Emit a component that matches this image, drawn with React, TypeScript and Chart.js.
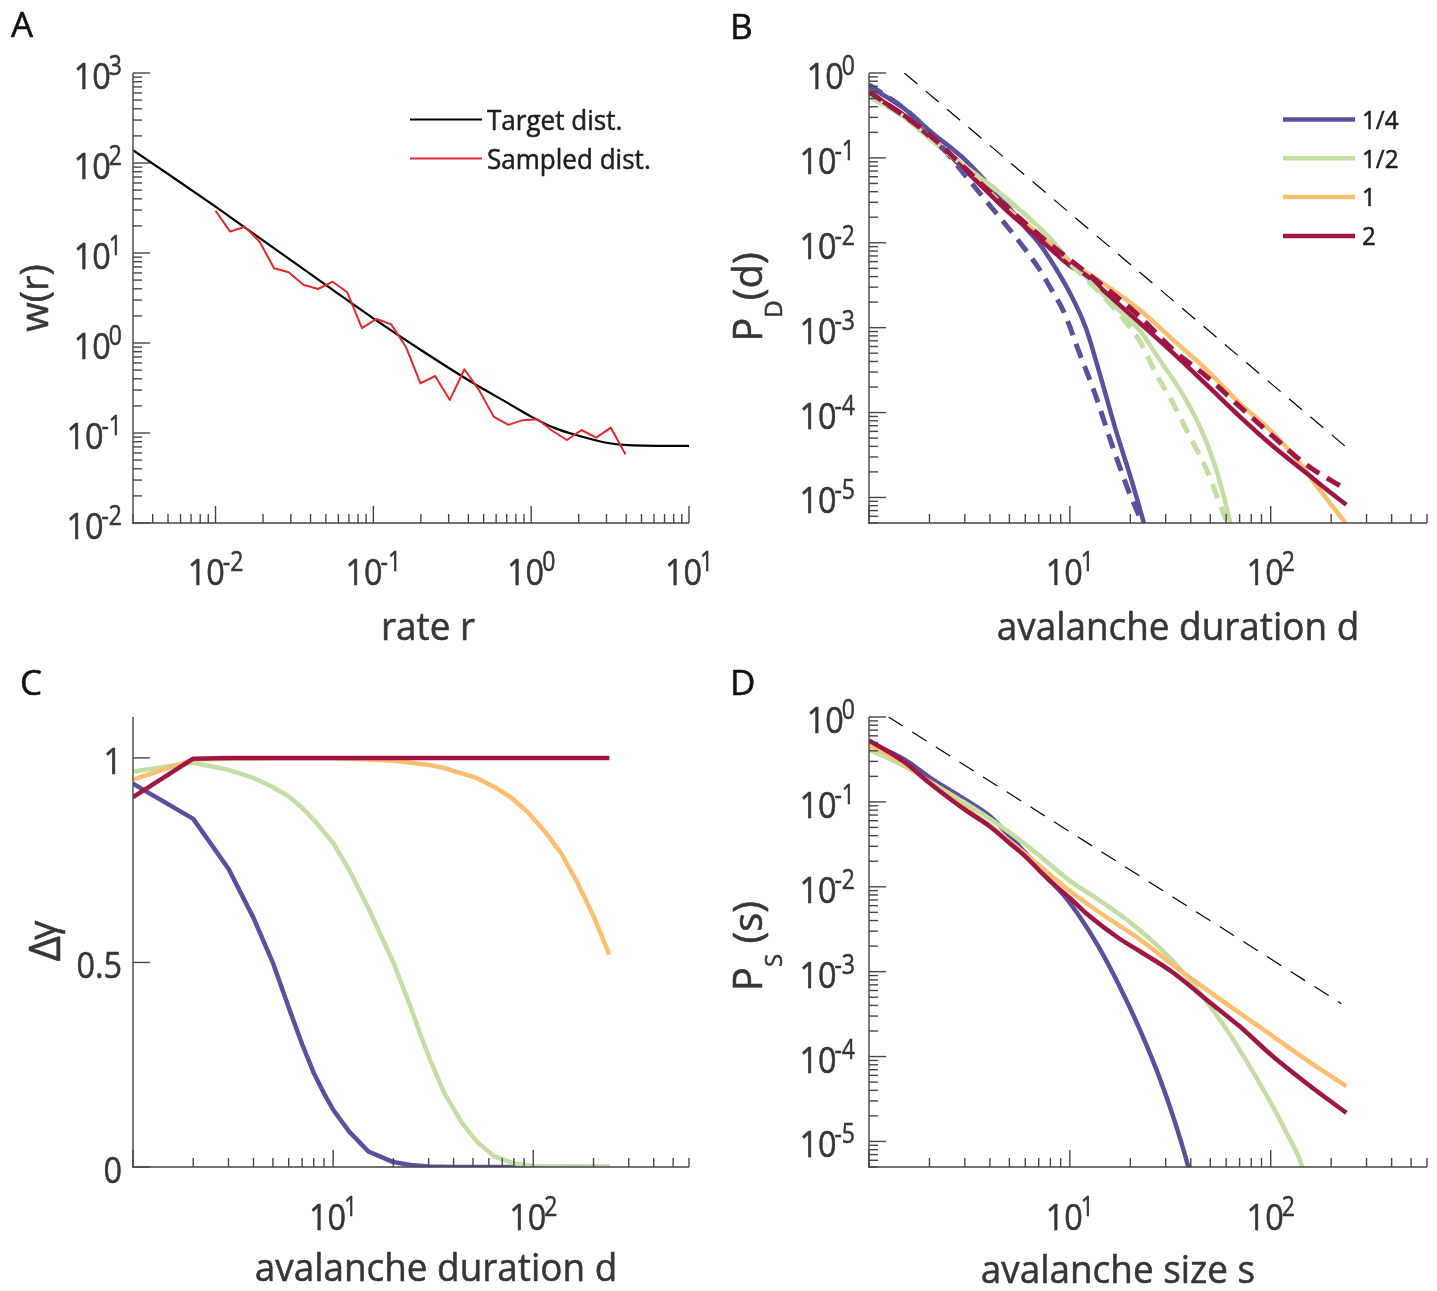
import React, { useEffect, useRef } from 'react';
import { Chart, registerables } from 'chart.js';

Chart.register(...registerables);

// ---------------- Panel A data ----------------
const A_TARGET_R = [0.003, 0.005, 0.01, 0.03, 0.1, 0.2, 0.45, 0.7, 1, 1.4, 1.93, 3.14, 5.08, 10];
const A_TARGET_W = [139, 75.5, 32.7, 8.33, 1.88, 0.836, 0.341, 0.219, 0.152, 0.114, 0.095, 0.0769, 0.0723, 0.0718];
const A_SAMPLED_R = [0.01, 0.01238, 0.01533, 0.01898, 0.0235, 0.02909, 0.03602, 0.0446, 0.05522, 0.06836,
  0.08464, 0.1048, 0.1297, 0.1606, 0.1989, 0.2462, 0.3049, 0.3775, 0.4673, 0.5786,
  0.7164, 0.887, 1.098, 1.36, 1.684, 2.084, 2.581, 3.195, 3.956];
const A_SAMPLED_W = [29.5, 17.3, 19.6, 13.4, 6.76, 6.1, 4.44, 3.98, 4.8, 3.66,
  1.46, 1.85, 1.61, 0.91, 0.356, 0.43, 0.233, 0.511, 0.3, 0.152,
  0.123, 0.139, 0.142, 0.106, 0.0836, 0.108, 0.0887, 0.1146, 0.058];
const A_Y_TICKS = [0.01, 0.1, 1, 10, 100, 1000];
const A_Y_EXPS = ['-2', '-1', '0', '1', '2', '3'];
const A_X_TICKS = [0.01, 0.1, 1, 10];
const A_X_EXPS = ['-2', '-1', '0', '1'];
const A_LEGEND = ['Target dist.', 'Sampled dist.'];

// ---------------- Panel B data (duration distributions) ----------------
const B_REF_D = [1.5, 238];
const B_REF_P = [1, 3.9e-5];
const B_PURPLE_D = [1, 1.5, 2, 3, 4, 5, 6, 7, 8, 10, 12, 14, 17, 20, 22, 24];
const B_PURPLE_P = [0.695, 0.38, 0.209, 0.0955, 0.0468, 0.0257, 0.0151, 0.01, 0.00631, 0.00257, 0.001, 3.02e-4, 6.03e-5, 1.78e-5, 8.3e-6, 3.98e-6];
const B_PURPLE_DASH_D = [1, 1.5, 2, 3, 4, 5, 6, 7, 8, 9.4, 11, 13.3, 16.1, 19.5, 22.7, 24];
const B_PURPLE_DASH_P = [0.724, 0.38, 0.2, 0.0631, 0.0275, 0.01445, 0.00832, 0.00501, 0.00295, 0.00148, 5.5e-4, 1.7e-4, 4.37e-5, 1.23e-5, 5.0e-6, 3.0e-6];
const B_GREEN_D = [1, 1.5, 2, 3, 4, 5, 6, 8, 10, 12, 14, 17, 20, 22.3, 28, 35.3, 44.3, 51.7, 57.9, 63, 66];
const B_GREEN_P = [0.53, 0.302, 0.17, 0.0794, 0.0479, 0.0309, 0.0214, 0.0112, 0.00603, 0.00398, 0.00275, 0.00174, 0.0012, 9.3e-4, 4.17e-4, 1.86e-4, 6.9e-5, 2.75e-5, 1.12e-5, 5.0e-6, 3.5e-6];
const B_GREEN_DASH_D = [1, 1.5, 2, 3, 4, 5, 6, 8, 10, 12, 14, 17, 20, 22.3, 27, 32.6, 39.5, 47.9, 55.7, 60.6, 64];
const B_GREEN_DASH_P = [0.53, 0.302, 0.17, 0.0794, 0.0479, 0.0309, 0.0214, 0.011, 0.00575, 0.0038, 0.00263, 0.00158, 0.001, 6.92e-4, 2.82e-4, 1.29e-4, 5.25e-5, 2.14e-5, 8.5e-6, 5.0e-6, 3.2e-6];
const B_ORANGE_D = [1, 1.5, 2, 3, 4, 5, 6, 8, 10, 13.8, 22.3, 32.6, 47.9, 70, 102.7, 139, 175, 203, 235, 240];
const B_ORANGE_P = [0.581, 0.316, 0.182, 0.0741, 0.0389, 0.024, 0.017, 0.00977, 0.00603, 0.00367, 0.00162, 7.23e-4, 3.2e-4, 1.29e-4, 5.75e-5, 2.55e-5, 1.24e-5, 7.85e-6, 5.0e-6, 4.6e-6];
const B_RED_D = [1, 1.5, 2, 3, 4, 5, 6, 8, 10, 12, 16, 22.3, 32.6, 47.9, 70, 102.7, 150, 190, 238];
const B_RED_P = [0.581, 0.316, 0.178, 0.0724, 0.0372, 0.0224, 0.0155, 0.00851, 0.00537, 0.00417, 0.00229, 0.001135, 5.04e-4, 2.13e-4, 9.0e-5, 4.0e-5, 1.95e-5, 1.24e-5, 8.2e-6];
const B_RED_DASH_D = [1, 2, 3, 4, 6, 8, 10, 14, 22.3, 32.6, 47.9, 70, 102.7, 150, 238];
const B_RED_DASH_P = [0.603, 0.186, 0.0759, 0.0398, 0.017, 0.00955, 0.00631, 0.00339, 0.00135, 5.51e-4, 2.67e-4, 1.18e-4, 5.25e-5, 2.44e-5, 1.24e-5];
const B_LEGEND = ['1/4', '1/2', '1', '2'];
const LOG_Y_TICKS = [1e-5, 1e-4, 1e-3, 1e-2, 1e-1, 1];
const LOG_Y_EXPS = ['-5', '-4', '-3', '-2', '-1', '0'];
const DUR_X_TICKS = [10, 100];
const DUR_X_EXPS = ['1', '2'];

// ---------------- Panel C data ----------------
const C_PURPLE_D = [1, 2, 3, 4, 5, 6, 7, 8, 9, 10, 12, 15, 20, 25, 30, 40, 60, 100, 150, 240];
const C_PURPLE_V = [0.937, 0.851, 0.729, 0.609, 0.499, 0.39, 0.3, 0.23, 0.18, 0.14, 0.087, 0.038, 0.012, 0.004, 0.001, 0, 0, 0, 0, 0];
const C_GREEN_D = [1, 2, 3, 4, 5, 6, 7, 8, 10, 12, 15, 20, 24, 27, 30.5, 36, 44, 53, 64, 79, 100, 150, 240];
const C_GREEN_V = [0.967, 0.988, 0.971, 0.951, 0.929, 0.906, 0.878, 0.849, 0.792, 0.727, 0.633, 0.5, 0.4, 0.33, 0.262, 0.18, 0.108, 0.059, 0.026, 0.01, 0.002, 0, 0];
const C_ORANGE_D = [1, 2, 3, 5, 10, 15, 20, 24, 30, 35.5, 42, 52, 64, 78, 94.5, 114, 139, 168, 200, 240];
const C_ORANGE_V = [0.947, 0.996, 0.998, 0.999, 0.999, 0.996, 0.993, 0.989, 0.983, 0.976, 0.965, 0.951, 0.929, 0.902, 0.866, 0.821, 0.764, 0.69, 0.613, 0.519];
const C_RED_D = [1, 2, 3, 5, 10, 20, 50, 100, 240];
const C_RED_V = [0.904, 0.998, 1, 1, 1, 1, 1, 1, 1];
const C_Y_TICKS = [0, 0.5, 1];
const C_Y_LABELS = ['0', '0.5', '1'];

// ---------------- Panel D data (size distributions) ----------------
const D_REF_S = [1.25, 225];
const D_REF_P = [1, 4.2e-4];
const D_PURPLE_S = [1, 1.5, 2, 3, 4, 5, 6, 7, 8, 9.4, 11.4, 13.8, 17.4, 22, 27, 32.6, 38.8, 41];
const D_PURPLE_P = [0.501, 0.316, 0.195, 0.107, 0.0676, 0.0398, 0.0251, 0.0166, 0.01175, 0.00776, 0.00417, 0.00202, 7.24e-4, 2.24e-4, 6.97e-5, 2.0e-5, 5.1e-6, 3.0e-6];
const D_GREEN_S = [1, 1.5, 2, 3, 4, 5, 6, 8, 10, 14, 18, 22.3, 27, 32.6, 40, 47.9, 58, 70, 85, 102.7, 120, 139, 145];
const D_GREEN_P = [0.412, 0.263, 0.174, 0.0977, 0.0631, 0.0437, 0.0316, 0.0182, 0.01175, 0.00698, 0.00458, 0.00308, 0.00207, 0.00133, 7.67e-4, 4.47e-4, 2.38e-4, 1.2e-4, 5.62e-5, 2.55e-5, 1.26e-5, 6.24e-6, 4.6e-6];
const D_ORANGE_S = [1, 1.5, 2, 3, 4, 5, 6, 8, 10, 14, 22.3, 32.6, 47.9, 70, 102.7, 150, 238];
const D_ORANGE_P = [0.468, 0.282, 0.17, 0.0851, 0.0525, 0.0347, 0.0245, 0.0138, 0.00891, 0.00501, 0.0024, 0.0012, 6.14e-4, 3.26e-4, 1.73e-4, 9.2e-5, 4.46e-5];
const D_RED_S = [1, 1.5, 2, 3, 4, 5, 6, 7, 8, 10, 12.3, 17.4, 22.3, 32.6, 47.9, 70, 102.7, 150, 238];
const D_RED_P = [0.531, 0.295, 0.167, 0.0809, 0.0514, 0.0328, 0.0228, 0.0158, 0.0116, 0.00738, 0.00468, 0.00251, 0.00174, 9.77e-4, 4.68e-4, 2.27e-4, 1.0e-4, 4.89e-5, 2.17e-5];

// ---------------- styles ----------------
const FONT = '"Open Sans", "Noto Sans", "DejaVu Sans", sans-serif';
const WEIGHT = '500';
const AXIS_COLOR = '#454545';
const TEXT_COLOR = '#363636';
const PURPLE = '#5b4f9e';
const GREEN = '#c3dea2';
const ORANGE = '#fdbe70';
const RED = '#9f1645';
const SAMPLE_RED = '#e5292b';

// ---------------- drawing helpers ----------------
function setFont(ctx: any, size: number) {
  ctx.font = `${WEIGHT} ${size}px ${FONT}`;
}

function paintText(ctx: any, s: string, color: string) {
  ctx.fillStyle = color;
  ctx.strokeStyle = color;
  ctx.lineWidth = 0.55;
  ctx.lineJoin = 'round';
  ctx.fillText(s, 0, 0);
  ctx.strokeText(s, 0, 0);
}

function drawText(ctx: any, s: string, x: number, y: number, size: number, color: string, align: string, hs: number) {
  setFont(ctx, size);
  const w = ctx.measureText(s).width * hs;
  let left = x;
  if (align === 'center') left = x - w / 2;
  else if (align === 'right') left = x - w;
  ctx.save();
  ctx.translate(left, y);
  ctx.scale(hs, 1);
  ctx.textAlign = 'left';
  ctx.textBaseline = 'alphabetic';
  paintText(ctx, s, color);
  ctx.restore();
  return w;
}

const MAIN_SIZE = 36;
const SUP_SIZE = 28;
const HS_MAIN = 0.9;
const HS_SUP = 0.82;
const SUP_RAISE = 14;

function drawPow(ctx: any, exp: string, x: number, y: number, align: string) {
  setFont(ctx, MAIN_SIZE);
  const wb = ctx.measureText('10').width * HS_MAIN;
  setFont(ctx, SUP_SIZE);
  const we = ctx.measureText(exp).width * HS_SUP;
  const total = wb + we - 2;
  const left = align === 'center' ? x - total / 2 : x - total;
  drawText(ctx, '10', left, y, MAIN_SIZE, TEXT_COLOR, 'left', HS_MAIN);
  drawText(ctx, exp, left + wb - 2, y - SUP_RAISE, SUP_SIZE, TEXT_COLOR, 'left', HS_SUP);
}

function drawRot(ctx: any, parts: any[], bx: number, cy: number) {
  const widths = parts.map((p) => {
    setFont(ctx, p.size);
    return ctx.measureText(p.s).width * (p.hs ?? 1) + (p.kern ?? 0);
  });
  const total = widths.reduce((a, b) => a + b, 0);
  ctx.save();
  ctx.translate(bx, cy);
  ctx.rotate(-Math.PI / 2);
  let x = -total / 2;
  parts.forEach((p, i) => {
    ctx.save();
    ctx.translate(x, p.dy || 0);
    ctx.scale(p.hs ?? 1, 1);
    setFont(ctx, p.size);
    ctx.textBaseline = 'alphabetic';
    ctx.textAlign = 'left';
    paintText(ctx, p.s, TEXT_COLOR);
    ctx.restore();
    x += widths[i];
  });
  ctx.restore();
}

function logTicks(min: number, max: number) {
  const out: any[] = [];
  const e0 = Math.floor(Math.log10(min) - 1e-9);
  const e1 = Math.ceil(Math.log10(max) + 1e-9);
  for (let e = e0; e <= e1; e++) {
    for (let m = 1; m <= 9; m++) {
      const v = m * Math.pow(10, e);
      if (v >= min * (1 - 1e-9) && v <= max * (1 + 1e-9)) out.push({ v, major: m === 1 });
    }
  }
  return out;
}

function line(ctx: any, x1: number, y1: number, x2: number, y2: number) {
  ctx.beginPath();
  ctx.moveTo(x1, y1);
  ctx.lineTo(x2, y2);
  ctx.stroke();
}

function drawAxes(chart: any, yLinearTicks?: number[]) {
  const ctx = chart.ctx;
  const a = chart.chartArea;
  const xs = chart.scales.x;
  const ys = chart.scales.y;
  ctx.save();
  ctx.strokeStyle = AXIS_COLOR;
  ctx.lineWidth = 1.4;
  ctx.lineCap = 'butt';
  line(ctx, a.left, a.top, a.left, a.bottom + 0.7);
  line(ctx, a.left - 0.7, a.bottom, a.right, a.bottom);
  logTicks(xs.min, xs.max).forEach((t) => {
    const px = xs.getPixelForValue(t.v);
    line(ctx, px, a.bottom, px, a.bottom - (t.major ? 17 : 9));
  });
  if (yLinearTicks) {
    yLinearTicks.forEach((v) => {
      const py = ys.getPixelForValue(v);
      line(ctx, a.left, py, a.left + 17, py);
    });
  } else {
    logTicks(ys.min, ys.max).forEach((t) => {
      const py = ys.getPixelForValue(t.v);
      line(ctx, a.left, py, a.left + (t.major ? 17 : 9), py);
    });
  }
  ctx.restore();
}

function drawLegend(ctx: any, items: any[], x1: number, x2: number, y0: number, dy: number, tx: number, size: number, lw: number) {
  items.forEach((it, i) => {
    const y = y0 + i * dy;
    ctx.save();
    ctx.strokeStyle = it.color;
    ctx.lineWidth = lw;
    line(ctx, x1, y, x2, y);
    ctx.restore();
    drawText(ctx, it.label, tx, y + size * 0.36, size, '#1e1e1e', 'left', 0.93);
  });
}

// ---------------- panels ----------------
function series(xs: number[], ys: number[], color: string, width: number, dash?: number[], smooth?: boolean) {
  return { xs, ys, color, width, dash, smooth };
}

const PANEL_A = {
  left: 0, top: 0, w: 718, h: 645,
  pad: { left: 133, right: 29, top: 73, bottom: 122 },
  x: { type: 'logarithmic', min: 0.003, max: 10 },
  y: { type: 'logarithmic', min: 0.01, max: 1000 },
  series: [
    series(A_TARGET_R, A_TARGET_W, '#000000', 2.2, undefined, true),
    series(A_SAMPLED_R, A_SAMPLED_W, SAMPLE_RED, 2),
  ],
  decorate(chart: any) {
    const ctx = chart.ctx;
    const ox = 0, oy = 0;
    drawAxes(chart);
    A_Y_TICKS.forEach((v, i) => drawPow(ctx, A_Y_EXPS[i], 122 - ox, chart.scales.y.getPixelForValue(v) + 16, 'right'));
    A_X_TICKS.forEach((v, i) => drawPow(ctx, A_X_EXPS[i], chart.scales.x.getPixelForValue(v), 585 - oy, 'center'));
    drawText(ctx, 'rate r', 428 - ox, 640 - oy, 38, TEXT_COLOR, 'center', 0.97);
    drawRot(ctx, [{ s: 'w(r)', size: 38 }], 48 - ox, 298 - oy);
    drawText(ctx, 'A', 11 - ox, 37 - oy, 35, '#111111', 'left', 1);
    drawLegend(ctx, [
      { label: A_LEGEND[0], color: '#000000' },
      { label: A_LEGEND[1], color: SAMPLE_RED },
    ], 410 - ox, 482 - ox, 119.5 - oy, 39, 487 - ox, 28, 2);
  },
};

const PANEL_B = {
  left: 718, top: 0, w: 719, h: 645,
  pad: { left: 151, right: 10, top: 73, bottom: 122 },
  x: { type: 'logarithmic', min: 1, max: 600 },
  y: { type: 'logarithmic', min: 5e-6, max: 1 },
  series: [
    series(B_REF_D, B_REF_P, '#000000', 1.2, [17, 11]),
    series(B_PURPLE_D, B_PURPLE_P, PURPLE, 4.5, undefined, true),
    series(B_GREEN_D, B_GREEN_P, GREEN, 4.5, undefined, true),
    series(B_ORANGE_D, B_ORANGE_P, ORANGE, 4.5, undefined, true),
    series(B_RED_D, B_RED_P, RED, 4.5, undefined, true),
    series(B_PURPLE_DASH_D, B_PURPLE_DASH_P, PURPLE, 5, [15, 9], true),
    series(B_GREEN_DASH_D, B_GREEN_DASH_P, GREEN, 5, [15, 9], true),
    series(B_RED_DASH_D, B_RED_DASH_P, RED, 5, [15, 9], true),
  ],
  decorate(chart: any) {
    const ctx = chart.ctx;
    const ox = 718, oy = 0;
    drawAxes(chart);
    LOG_Y_TICKS.forEach((v, i) => drawPow(ctx, LOG_Y_EXPS[i], 855 - ox, chart.scales.y.getPixelForValue(v) + 16, 'right'));
    DUR_X_TICKS.forEach((v, i) => drawPow(ctx, DUR_X_EXPS[i], chart.scales.x.getPixelForValue(v), 585 - oy, 'center'));
    drawText(ctx, 'avalanche duration d', 1178 - ox, 640 - oy, 38, TEXT_COLOR, 'center', 0.97);
    drawRot(ctx, [
      { s: 'P', size: 40 },
      { s: 'D', size: 24, dy: 20 },
      { s: '(d)', size: 40 },
    ], 761.5 - ox, 297 - oy);
    drawText(ctx, 'B', 730 - ox, 39 - oy, 35, '#111111', 'left', 1);
    drawLegend(ctx, [
      { label: B_LEGEND[0], color: PURPLE },
      { label: B_LEGEND[1], color: GREEN },
      { label: B_LEGEND[2], color: ORANGE },
      { label: B_LEGEND[3], color: RED },
    ], 1283 - ox, 1355 - ox, 119.5 - oy, 38.8, 1362 - ox, 26, 4.5);
  },
};

const PANEL_C = {
  left: 0, top: 645, w: 718, h: 646,
  pad: { left: 133, right: 29, top: 72, bottom: 124 },
  x: { type: 'logarithmic', min: 1, max: 600 },
  y: { type: 'linear', min: 0, max: 1.1 },
  series: [
    series(C_PURPLE_D, C_PURPLE_V, PURPLE, 4.5),
    series(C_GREEN_D, C_GREEN_V, GREEN, 4.5),
    series(C_ORANGE_D, C_ORANGE_V, ORANGE, 4.5),
    series(C_RED_D, C_RED_V, RED, 4.5),
  ],
  decorate(chart: any) {
    const ctx = chart.ctx;
    const ox = 0, oy = 645;
    drawAxes(chart, C_Y_TICKS);
    C_Y_TICKS.forEach((v, i) => drawText(ctx, C_Y_LABELS[i], 122 - ox, chart.scales.y.getPixelForValue(v) + 16, MAIN_SIZE, TEXT_COLOR, 'right', HS_MAIN));
    DUR_X_TICKS.forEach((v, i) => drawPow(ctx, DUR_X_EXPS[i], chart.scales.x.getPixelForValue(v), 1230 - oy, 'center'));
    drawText(ctx, 'avalanche duration d', 436 - ox, 1281 - oy, 38, TEXT_COLOR, 'center', 0.97);
    drawRot(ctx, [
      { s: '\u0394', size: 44, kern: -4 },
      { s: '\u03b3', size: 38, dy: -4 },
    ], 60 - ox, 941 - oy);
    drawText(ctx, 'C', 20 - ox, 695 - oy, 35, '#111111', 'left', 1);
  },
};

const PANEL_D = {
  left: 718, top: 645, w: 719, h: 646,
  pad: { left: 151, right: 10, top: 72, bottom: 124 },
  x: { type: 'logarithmic', min: 1, max: 600 },
  y: { type: 'logarithmic', min: 5e-6, max: 1 },
  series: [
    series(D_REF_S, D_REF_P, '#000000', 1.2, [17, 11]),
    series(D_PURPLE_S, D_PURPLE_P, PURPLE, 4.5, undefined, true),
    series(D_GREEN_S, D_GREEN_P, GREEN, 4.5, undefined, true),
    series(D_ORANGE_S, D_ORANGE_P, ORANGE, 4.5, undefined, true),
    series(D_RED_S, D_RED_P, RED, 4.5, undefined, true),
  ],
  decorate(chart: any) {
    const ctx = chart.ctx;
    const ox = 718, oy = 645;
    drawAxes(chart);
    LOG_Y_TICKS.forEach((v, i) => drawPow(ctx, LOG_Y_EXPS[i], 855 - ox, chart.scales.y.getPixelForValue(v) + 16, 'right'));
    DUR_X_TICKS.forEach((v, i) => drawPow(ctx, DUR_X_EXPS[i], chart.scales.x.getPixelForValue(v), 1230 - oy, 'center'));
    drawText(ctx, 'avalanche size s', 1118 - ox, 1283 - oy, 38, TEXT_COLOR, 'center', 0.97);
    drawRot(ctx, [
      { s: 'P', size: 40 },
      { s: 'S', size: 24, dy: 20 },
      { s: ' (s)', size: 40 },
    ], 761.5 - ox, 946 - oy);
    drawText(ctx, 'D', 730 - ox, 695 - oy, 35, '#111111', 'left', 1);
  },
};

function buildChart(canvas: HTMLCanvasElement, cfg: any) {
  const n = cfg.series.length;
  return new Chart(canvas, {
    type: 'line',
    data: {
      datasets: cfg.series.map((s: any, i: number) => ({
        data: s.xs.map((x: number, j: number) => ({ x, y: s.ys[j] })),
        borderColor: s.color,
        backgroundColor: s.color,
        borderWidth: s.width,
        borderDash: s.dash || [],
        borderCapStyle: 'butt',
        borderJoinStyle: 'round',
        pointRadius: 0,
        fill: false,
        tension: 0,
        cubicInterpolationMode: s.smooth ? 'monotone' : 'default',
        order: n - i,
      })),
    },
    options: {
      responsive: false,
      animation: false,
      devicePixelRatio: 1,
      events: [],
      layout: { padding: cfg.pad },
      plugins: { legend: { display: false }, tooltip: { enabled: false } },
      scales: {
        x: { type: cfg.x.type, min: cfg.x.min, max: cfg.x.max, display: false },
        y: { type: cfg.y.type, min: cfg.y.min, max: cfg.y.max, display: false },
      },
    },
    plugins: [{ id: 'deco', afterDraw: (chart: any) => cfg.decorate(chart) }],
  } as any);
}

function Panel({ cfg }: { cfg: any }) {
  const ref = useRef<HTMLCanvasElement | null>(null);
  useEffect(() => {
    if (!ref.current) return;
    const chart = buildChart(ref.current, cfg);
    return () => chart.destroy();
  }, [cfg]);
  return (
    <canvas
      ref={ref}
      width={cfg.w}
      height={cfg.h}
      style={{ position: 'absolute', left: cfg.left, top: cfg.top, width: cfg.w, height: cfg.h }}
    />
  );
}

export default function App() {
  return (
    <div style={{ position: 'absolute', left: 0, top: 0, width: 1437, height: 1291, background: '#ffffff', overflow: 'hidden' }}>
      <Panel cfg={PANEL_A} />
      <Panel cfg={PANEL_B} />
      <Panel cfg={PANEL_C} />
      <Panel cfg={PANEL_D} />
    </div>
  );
}
